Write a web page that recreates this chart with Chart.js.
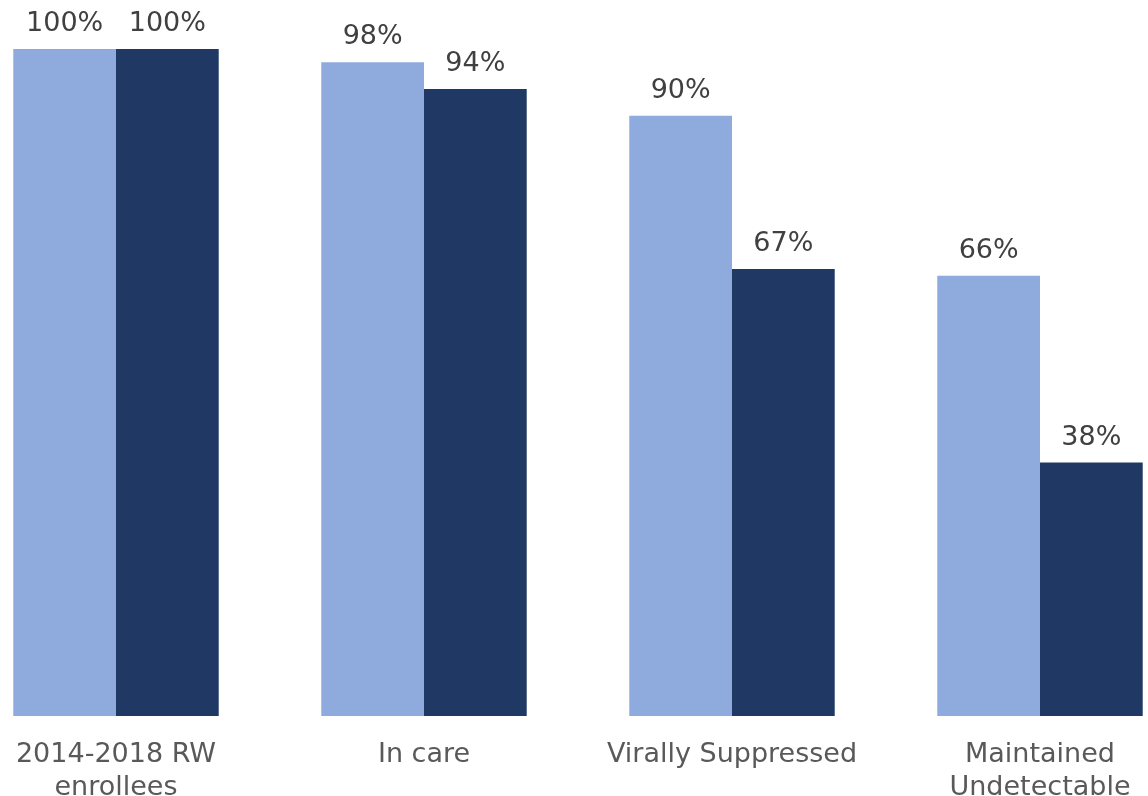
<!DOCTYPE html>
<html>
<head>
<meta charset="utf-8">
<script src="https://cdn.jsdelivr.net/npm/chart.js@4"></script>
<style>
  html, body { margin: 0; padding: 0; background: #fff; overflow: hidden; }
  #wrap { position: absolute; left: -38px; top: 0; width: 1232px; height: 796px; }
</style>
</head>
<body>
<div id="wrap"><canvas id="chart"></canvas></div>
<script>
// Chart data
const categories = [['2014-2018 RW', 'enrollees'], 'In care', 'Virally Suppressed', ['Maintained', 'Undetectable']];
const seriesA = [100, 98, 90, 66];
const seriesB = [100, 94, 67, 38];

// Draw the value labels above each bar
const valueLabels = {
    id: 'valueLabels',
    afterDatasetsDraw(chart) {
        const ctx = chart.ctx;
        ctx.save();
        ctx.font = '27px "DejaVu Sans"';
        ctx.fillStyle = '#404040';
        ctx.textAlign = 'center';
        ctx.textBaseline = 'alphabetic';
        chart.data.datasets.forEach((ds, i) => {
            chart.getDatasetMeta(i).data.forEach((bar, j) => {
                ctx.fillText(ds.data[j] + '%', bar.x, bar.y - 18);
            });
        });
        ctx.restore();
    }
};

new Chart(document.getElementById('chart'), {
    type: 'bar',
    data: {
        labels: categories,
        datasets: [
            { data: seriesA, backgroundColor: '#8FAADC' },
            { data: seriesB, backgroundColor: '#203864' }
        ]
    },
    options: {
        responsive: true,
        maintainAspectRatio: false,
        animation: false,
        layout: { padding: { top: 49, left: 0, right: 0, bottom: 0 } },
        datasets: { bar: { categoryPercentage: 0.667, barPercentage: 1.0 } },
        plugins: { legend: { display: false }, tooltip: { enabled: false } },
        scales: {
            x: {
                grid: { display: false },
                border: { display: false },
                ticks: {
                    color: '#595959',
                    font: { family: 'DejaVu Sans', size: 27, lineHeight: 1.2 },
                    padding: 15,
                    maxRotation: 0,
                    autoSkip: false
                },
                afterFit(axis) { axis.height = 80; }
            },
            y: {
                display: false,
                min: 0,
                max: 100
            }
        }
    },
    plugins: [valueLabels]
});
</script>
</body>
</html>
